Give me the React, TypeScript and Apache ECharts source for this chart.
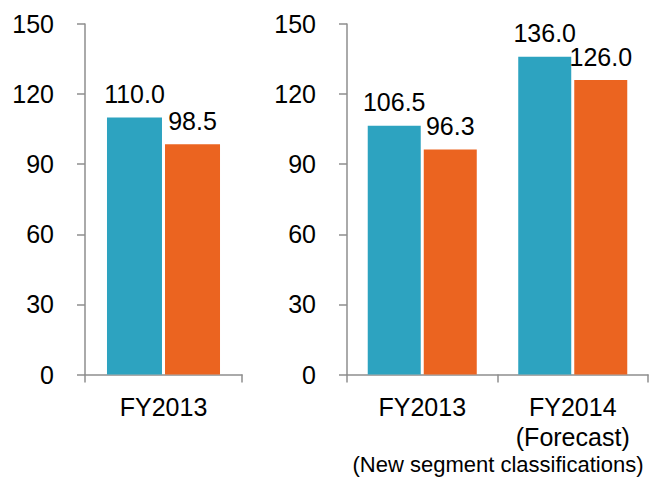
import React, { useEffect, useRef } from "react";
import * as echarts from "echarts";

// Old segment classification, FY2013 only
const leftCategories = ["FY2013"];
const leftSeriesA = [110.0];
const leftSeriesB = [98.5];

// New segment classifications, FY2013 actual and FY2014 forecast
const rightCategories = ["FY2013", "FY2014\n(Forecast)"];
const rightSeriesA = [106.5, 136.0];
const rightSeriesB = [96.3, 126.0];

const rightNote = "(New segment classifications)";

const yMin = 0;
const yMax = 150;
const yInterval = 30;

const TEAL = "#2DA3C0";
const ORANGE = "#EB6420";
const AXIS = "#8E8E8E";
const FONT = "'Liberation Sans', Arial, sans-serif";

export default function App() {
  const ref = useRef<HTMLDivElement>(null);

  useEffect(() => {
    if (!ref.current) return;
    const chart = echarts.init(ref.current, null, { renderer: "svg" });

    const yAxisBase = (gridIndex: number) => ({
      type: "value" as const,
      gridIndex,
      min: yMin,
      max: yMax,
      interval: yInterval,
      splitLine: { show: false },
      axisLine: { show: true, lineStyle: { color: AXIS, width: 1.5 } },
      axisTick: { show: true, length: 8, lineStyle: { color: AXIS, width: 1.5 } },
      axisLabel: { margin: 31, color: "#000", fontSize: 25, fontFamily: FONT },
    });

    const xAxisBase = (gridIndex: number, data: string[]) => ({
      type: "category" as const,
      gridIndex,
      data,
      axisLine: { show: true, lineStyle: { color: AXIS, width: 1.5 } },
      axisTick: { show: true, length: 8, alignWithLabel: false, lineStyle: { color: AXIS, width: 1.5 } },
      axisLabel: {
        margin: 17,
        color: "#000",
        fontSize: 25,
        lineHeight: 30,
        fontFamily: FONT,
        interval: 0,
      },
    });

    const label = {
      show: true,
      position: "top" as const,
      distance: 11,
      color: "#000",
      fontSize: 25,
      fontFamily: FONT,
      formatter: (p: any) => Number(p.value).toFixed(1),
    };

    chart.setOption({
      animation: false,
      backgroundColor: "#fff",
      textStyle: { fontFamily: FONT },
      grid: [
        { left: 85, top: 24, width: 157, height: 350.5 },
        { left: 347, top: 24, width: 301, height: 350.5 },
      ],
      xAxis: [xAxisBase(0, leftCategories), xAxisBase(1, rightCategories)],
      yAxis: [yAxisBase(0), yAxisBase(1)],
      series: [
        {
          type: "bar",
          xAxisIndex: 0,
          yAxisIndex: 0,
          data: leftSeriesA,
          barWidth: 55,
          barGap: "5.5%",
          itemStyle: { color: TEAL },
          label,
        },
        {
          type: "bar",
          xAxisIndex: 0,
          yAxisIndex: 0,
          data: leftSeriesB,
          barWidth: 55,
          barGap: "5.5%",
          itemStyle: { color: ORANGE },
          label,
        },
        {
          type: "bar",
          xAxisIndex: 1,
          yAxisIndex: 1,
          data: rightSeriesA,
          barWidth: 53,
          barGap: "5.7%",
          itemStyle: { color: TEAL },
          label,
        },
        {
          type: "bar",
          xAxisIndex: 1,
          yAxisIndex: 1,
          data: rightSeriesB,
          barWidth: 53,
          barGap: "5.7%",
          itemStyle: { color: ORANGE },
          label,
        },
      ],
      graphic: [
        {
          type: "text",
          x: 498,
          y: 464,
          style: {
            text: rightNote,
            fill: "#000",
            fontSize: 22,
            lineHeight: 22,
            fontFamily: FONT,
            textAlign: "center",
            textVerticalAlign: "middle",
          },
        },
      ],
    });

    return () => chart.dispose();
  }, []);

  return (
    <div
      ref={ref}
      style={{ position: "absolute", left: 0, top: 0, width: 659, height: 477 }}
    />
  );
}
